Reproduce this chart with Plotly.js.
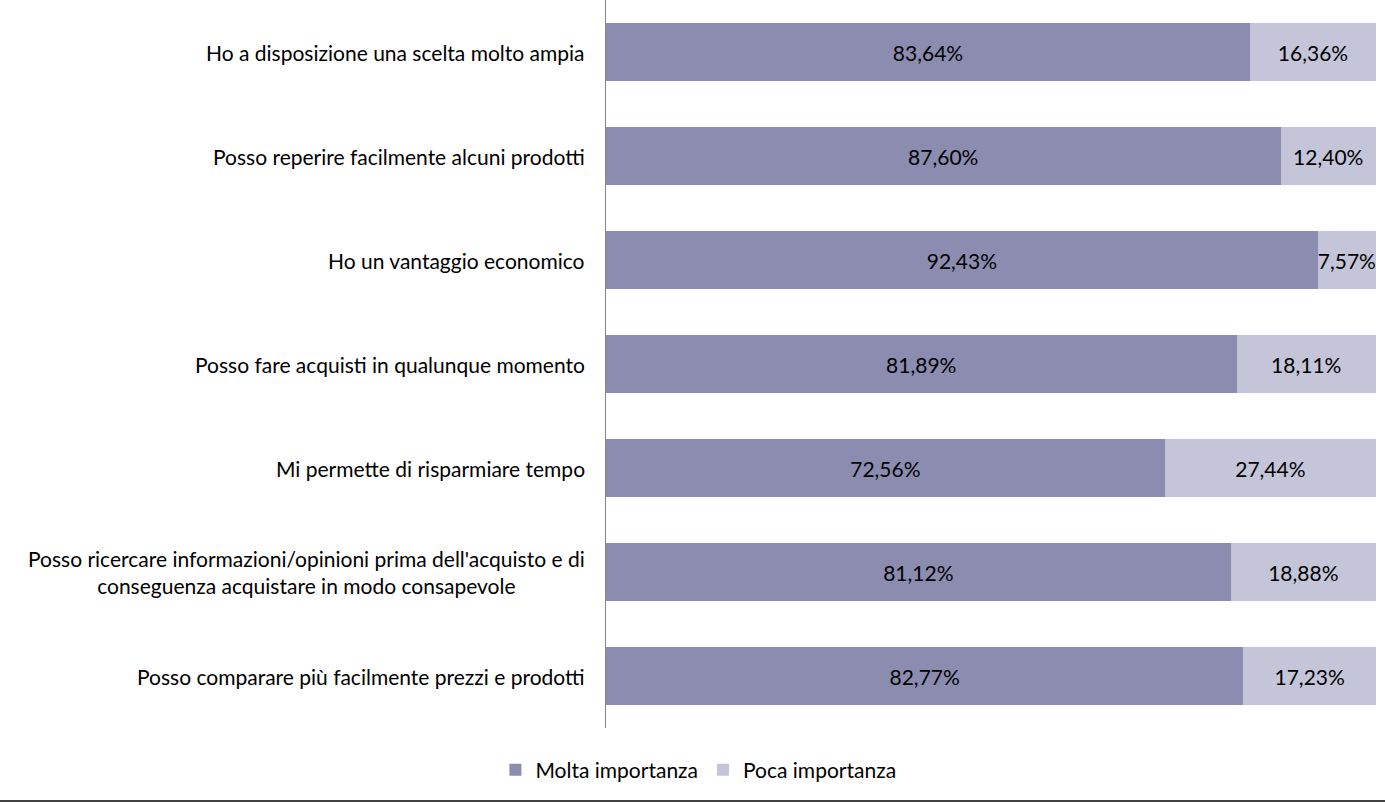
<!DOCTYPE html>
<html><head><meta charset="utf-8">
<script src="https://cdn.plot.ly/plotly-3.0.1.min.js"></script>
<style>html,body{margin:0;padding:0;background:#fff}#chart{width:1385px;height:803px}</style>
</head><body><div id="chart"></div>
<script>
var categories = [
  "Ho a disposizione una scelta molto ampia",
  "Posso reperire facilmente alcuni prodotti",
  "Ho un vantaggio economico",
  "Posso fare acquisti in qualunque momento",
  "Mi permette di risparmiare tempo",
  "Posso ricercare informazioni/opinioni prima dell'acquisto e di<br>conseguenza acquistare in modo consapevole",
  "Posso comparare più facilmente prezzi e prodotti"
];
var molta = [83.64, 87.60, 92.43, 81.89, 72.56, 81.12, 82.77];
var poca = [16.36, 12.40, 7.57, 18.11, 27.44, 18.88, 17.23];
var seriesNames = ["Molta importanza", "Poca importanza"];

var font = "Lato, 'Open Sans', sans-serif";
var common = {
  type: 'bar', orientation: 'h', y: categories,
  texttemplate: '%{x:.2f}%', textposition: 'inside', insidetextanchor: 'middle',
  constraintext: 'none', textfont: {family: font, size: 21, color: '#000'},
  hoverinfo: 'skip'
};
var traces = [
  Object.assign({}, common, {x: molta, name: seriesNames[0], marker: {color: '#8c8cb0'}}),
  Object.assign({}, common, {x: poca, name: seriesNames[1], marker: {color: '#c5c5d9'}})
];
var annotations = categories.map(function(c){
  return {x: 0, xref: 'paper', y: c, yref: 'y', text: c, showarrow: false,
    xanchor: 'right', yanchor: 'middle', align: 'center', xshift: -19,
    font: {family: font, size: 21, color: '#000'}};
});
var layout = {
  width: 1385, height: 803,
  margin: {l: 606, r: 9, t: 0, b: 75},
  barmode: 'stack', bargap: 0.44,
  separators: ',.',
  paper_bgcolor: '#fff', plot_bgcolor: '#fff',
  xaxis: {range: [0, 100], visible: false, fixedrange: true},
  yaxis: {autorange: 'reversed', showticklabels: false, ticks: '', showline: true,
    linecolor: '#868686', linewidth: 1, showgrid: false, zeroline: false},
  showlegend: true,
  legend: {orientation: 'h', x: 0.12, xanchor: 'center', y: -0.058, yanchor: 'middle',
    font: {family: font, size: 21, color: '#000'}, traceorder: 'normal', itemwidth: 30},
  annotations: annotations,
  shapes: [{type: 'line', xref: 'paper', yref: 'paper', x0: -0.8, x1: 1.02,
    y0: -0.1003, y1: -0.1003, line: {color: '#000', width: 1.5}}]
};
Plotly.newPlot('chart', traces, layout, {displayModeBar: false, staticPlot: true});
</script></body></html>
